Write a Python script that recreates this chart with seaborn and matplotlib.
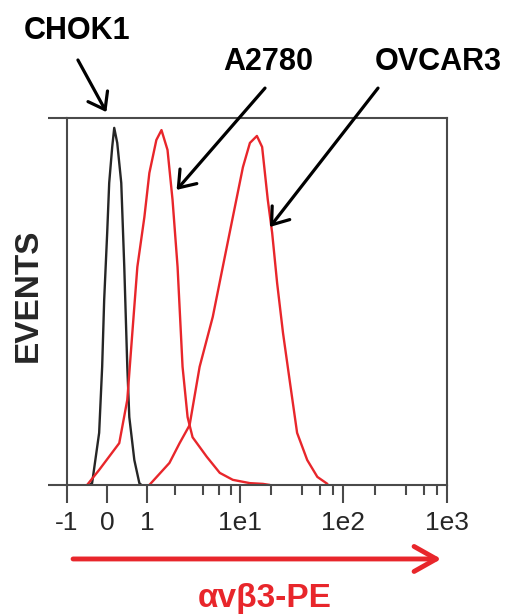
import numpy as np
import pandas as pd
import matplotlib
matplotlib.use("Agg")
import matplotlib.pyplot as plt
import seaborn as sns
from matplotlib.ticker import FixedLocator, FixedFormatter, NullFormatter

# values (x = fluorescence, y = relative events)
chok1_x = [-0.45, -0.375, -0.2, -0.125, -0.075, 0.0, 0.05, 0.125, 0.175, 0.25, 0.35,
           0.425, 0.5, 0.55, 0.675, 0.8, 0.85]
chok1_y = [0, 0.5, 14.2, 32.2, 50.4, 68.7, 82.3, 92.1, 97.3, 93.2, 82.3,
           59.4, 32.2, 18.5, 6.8, 0.5, 0]

a2780_x = [-0.5, -0.2, 0.3, 0.5, 0.625, 0.75, 0.925, 1.05, 1.25, 1.42, 1.65, 1.87,
           2.12, 2.40, 2.72, 3.08, 4.38, 6.06, 8.39, 12.5, 16.7, 19.5]
a2780_y = [0, 4.1, 11.4, 23.2, 41.4, 59.4, 73.0, 85.0, 94.0, 96.7, 91.3, 77.7,
           59.4, 32.2, 18.5, 13.0, 7.7, 3.3, 1.4, 0.5, 0.3, 0]

ovcar3_x = [1.05, 1.73, 2.23, 2.86, 3.67, 5.09, 6.53, 8.39, 10.7, 12.5, 14.6, 16.4,
            18.6, 20.5, 22.9, 26.1, 30.5, 35.7, 44.7, 56.0, 70.0]
ovcar3_y = [0, 6.0, 11.4, 16.3, 32.2, 45.8, 59.4, 73.0, 86.6, 93.2, 95.1, 92.1,
            77.7, 68.7, 55.0, 41.4, 27.8, 14.2, 6.8, 2.2, 0.3]

tick_vals = [-1, 0, 1, 10, 100, 1000]
tick_labels = ["-1", "0", "1", "1e1", "1e2", "1e3"]
minor_vals = [2, 4, 6, 8, 20, 40, 60, 80, 200, 400, 600, 800]

red = "#e8262b"
dark = "#262626"


# cytometer-style axis: linear around zero, log above 1
def fwd(x):
    x = np.asarray(x, dtype=float)
    lx = np.log10(np.maximum(x, 1e-12))
    return np.where(x <= 1, 40 * x, np.where(x <= 10, 40 + 92 * lx, 132 + 103 * (lx - 1)))


def inv(t):
    t = np.asarray(t, dtype=float)
    t = np.clip(t, -1e4, 1500)
    return np.where(t <= 40, t / 40,
                    np.where(t <= 132, 10 ** ((t - 40) / 92), 10 ** ((t - 132) / 103 + 1)))


df = pd.concat([
    pd.DataFrame({"x": chok1_x, "y": chok1_y, "cell": "CHOK1"}),
    pd.DataFrame({"x": a2780_x, "y": a2780_y, "cell": "A2780"}),
    pd.DataFrame({"x": ovcar3_x, "y": ovcar3_y, "cell": "OVCAR3"}),
])

sns.set_style("white")
plt.rcParams['font.family'] = ['Liberation Sans', 'DejaVu Sans']

fig = plt.figure(figsize=(5.16, 6.16), dpi=100)
ax = fig.add_axes([0.1298, 0.2127, 0.7364, 0.5958])

sns.lineplot(data=df, x="x", y="y", hue="cell", units="cell", estimator=None, sort=False,
             palette={"CHOK1": dark, "A2780": red, "OVCAR3": red},
             linewidth=1.7, legend=False, ax=ax)

ax.set_xscale("function", functions=(fwd, inv))
ax.set_xlim(-1, 1000)
ax.set_ylim(0, 100)
ax.xaxis.set_major_locator(FixedLocator(tick_vals))
ax.xaxis.set_major_formatter(FixedFormatter(tick_labels))
ax.xaxis.set_minor_locator(FixedLocator(minor_vals))
ax.xaxis.set_minor_formatter(NullFormatter())
ax.set_yticks([0, 100])
ax.set_yticklabels([])

spine_col = "#4a4a4a"
for s in ax.spines.values():
    s.set_color(spine_col)
    s.set_linewidth(1.5)
ax.tick_params(axis="x", which="major", direction="out", length=13, width=1.5,
               color=spine_col, labelsize=19, pad=6, bottom=True)
ax.tick_params(axis="x", which="minor", direction="out", length=7, width=1.5,
               color=spine_col, bottom=True)
ax.tick_params(axis="y", which="major", direction="out", length=14, width=1.5,
               color=spine_col, left=True)

ax.set_ylabel("EVENTS", fontsize=24, fontweight="bold", va="center")
ax.yaxis.set_label_coords(-0.103, 0.516)
ax.set_xlabel("αvβ3-PE", fontsize=24, fontweight="bold", color=red, va="center")
ax.xaxis.set_label_coords(0.521, -0.308)

# red axis arrow under the ticks
ax.annotate("", xy=(0.985, -0.2016), xytext=(0.016, -0.2016), xycoords="axes fraction",
            arrowprops=dict(arrowstyle="->,head_length=0.8,head_width=0.45", color=red,
                            lw=3.5, mutation_scale=20, shrinkA=0, shrinkB=0),
            annotation_clip=False)

# labels with pointing arrows
labels = ["CHOK1", "A2780", "OVCAR3"]
label_pos = [(0.150, 0.9497), (0.519, 0.899), (0.849, 0.899)]
tails = [(0.151, 0.9026), (0.5136, 0.857), (0.7326, 0.857)]
tips = [(-0.02, 101.6), (2.07, 80.4), (19.5, 70.3)]
for lab, lp, tl, tp in zip(labels, label_pos, tails, tips):
    fig.text(lp[0], lp[1], lab, fontsize=22, fontweight="bold", ha="center", va="center",
             color="black")
    ax.annotate("", xy=tp, xycoords="data", xytext=tl, textcoords="figure fraction",
                arrowprops=dict(arrowstyle="->,head_length=0.55,head_width=0.4",
                                color="black", lw=2.3, mutation_scale=20,
                                shrinkA=0, shrinkB=0),
                annotation_clip=False)

fig.savefig("out.png", dpi=100)
